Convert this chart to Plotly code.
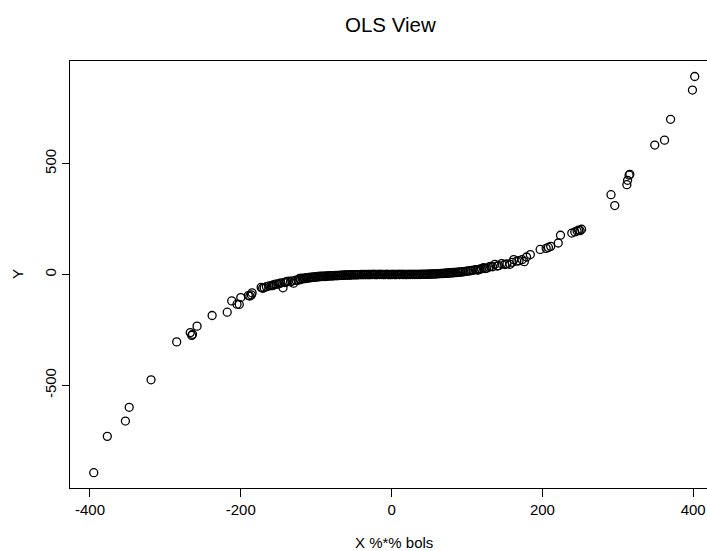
import plotly.graph_objects as go

# Points (x = X %*% bols, y = Y)
x_left = [-395, -377, -353, -348, -319, -285, -267, -265, -264, -258, -238, -218,
          -212, -205, -202, -200, -190, -188, -186, -185, -173, -171, -169, -166,
          -163, -160, -158, -157, -155, -153, -151, -149, -147, -144, -142, -140,
          -139, -137, -134, -132, -130, -127]
y_left = [-894, -730, -661, -599, -475, -304, -262, -275, -270, -233, -185, -170,
          -119, -134, -135, -104, -95, -97, -92, -83, -58, -62, -60, -55,
          -52, -50, -50, -47, -45, -44, -43, -41, -38, -60, -36, -35,
          -32, -30, -33, -29, -39, -26]

x_mid_a = [-124, -122, -121, -119, -118, -116, -115, -113, -112, -110,
           -109, -107, -106, -104, -103, -101, -100, -98, -97, -95,
           -94, -92, -91, -89, -88, -86, -85, -83, -82, -80,
           -79, -77, -76, -74, -73, -71, -70, -68, -67, -65, -64, -62]
y_mid_a = [-26, -18, -23, -17, -20, -16, -19, -14, -17, -13,
           -16, -12, -14, -11, -13, -10, -12, -9, -11, -8,
           -10, -8, -9, -7, -9, -6, -8, -6, -7, -5,
           -7, -5, -6, -4, -6, -4, -5, -3, -4, -3, -4, -2]

x_mid_b = [-61, -59, -58, -56, -55, -53, -52, -50, -49, -47,
           -46, -44, -43, -41, -40, -38, -37, -35, -34, -32,
           -31, -29, -28, -26, -25, -23, -22, -20, -19, -17,
           -16, -14, -13, -11, -10, -8, -7, -5, -4, -2, -1]
y_mid_b = [-3, -2, -3, -2, -3, -1, -2, -1, -2, -1,
           -2, -1, -1, 0, -1, -1, 0, -1, 0, -1,
           0, 0, -1, 0, 1, 0, 0, -1, 0, 1,
           0, 0, 1, 0, -1, 0, 1, 0, 0, -1, 0]

x_mid_c = [1, 2, 4, 5, 7, 8, 10, 11, 13, 14,
           16, 17, 19, 20, 22, 23, 25, 26, 28, 29,
           31, 32, 34, 35, 37, 38, 40, 41, 43, 44,
           46, 47, 49, 50, 52, 53, 55, 56, 58, 59]
y_mid_c = [0, 1, 0, -1, 0, 1, 0, 0, 1, 0,
           0, 1, -1, 0, 1, 0, 0, 1, 0, 1,
           0, 1, 0, 1, 1, 0, 1, 2, 1, 1,
           2, 1, 2, 2, 1, 3, 2, 3, 2, 3]

x_mid_d = [61, 62, 64, 65, 67, 68, 70, 71, 73, 74,
           76, 77, 79, 80, 82, 83, 85, 86, 88, 89, 91, 92, 94]
y_mid_d = [4, 3, 4, 5, 4, 5, 6, 5, 6, 7,
           6, 8, 7, 8, 9, 8, 10, 9, 11, 10, 12, 11, 13]

x_right = [95, 98, 100, 102, 104, 106, 108, 111, 113, 115, 117, 119, 122, 124, 126,
           129, 131, 134, 137, 140, 142, 146, 150, 153, 157, 160, 162, 166, 169, 173,
           176, 179, 184, 197, 205, 208, 211, 221, 224,
           239, 243, 246, 248, 250, 252, 291, 296, 312, 313, 315, 316, 349, 362, 370,
           399, 402]
y_right = [12, 14, 15, 16, 17, 18, 19, 22, 21, 20, 24, 26, 31, 27, 28,
           33, 37, 35, 46, 38, 40, 49, 45, 48, 46, 55, 67, 60, 62, 67,
           58, 79, 90, 113, 118, 122, 127, 142, 177,
           187, 192, 196, 200, 198, 204, 360, 311, 405, 425, 448, 452, 584, 606, 700,
           832, 893]

x_vals = x_left + x_mid_a + x_mid_b + x_mid_c + x_mid_d + x_right
y_vals = y_left + y_mid_a + y_mid_b + y_mid_c + y_mid_d + y_right

x_ticks = [-400, -200, 0, 200, 400]
y_ticks = [-500, 0, 500]

FONT = "Liberation Sans, Arial, Helvetica, sans-serif"

W, H = 707, 551
ML, MR, MT, MB = 70, 0, 61, 63
plot_w = W - ML - MR
plot_h = H - MT - MB


def px_to_paper(px, py):
    return (px - ML) / plot_w, (H - MB - py) / plot_h


fig = go.Figure()
fig.add_trace(go.Scatter(
    x=x_vals, y=y_vals, mode="markers",
    marker=dict(symbol="circle-open", size=8, color="black",
                line=dict(color="black", width=1.3)),
    showlegend=False, hoverinfo="skip",
))

ann = []
tx, ty = px_to_paper(390, 25)
ann.append(dict(text="OLS View", x=tx, y=ty, xref="paper", yref="paper", showarrow=False,
                font=dict(size=20.5), xanchor="center", yanchor="middle"))
ax_x, ax_y = px_to_paper(394, 542)
ann.append(dict(text="X %*% bols", x=ax_x, y=ax_y, xref="paper", yref="paper", showarrow=False,
                font=dict(size=15), xanchor="center", yanchor="middle"))
yx, yy = px_to_paper(17, 274)
ann.append(dict(text="Y", x=yx, y=yy, xref="paper", yref="paper", showarrow=False,
                font=dict(size=15), xanchor="center", yanchor="middle", textangle=-90))

fig.update_layout(
    width=W, height=H,
    margin=dict(l=ML, r=MR, t=MT, b=MB),
    paper_bgcolor="white", plot_bgcolor="white",
    font=dict(family=FONT, size=15, color="black"),
    xaxis=dict(range=[-426.5, 418.3], tickvals=x_ticks, ticktext=[str(v) for v in x_ticks],
               showgrid=False, zeroline=False, showline=True, mirror=True,
               linecolor="black", linewidth=1, ticks="outside", ticklen=8,
               tickcolor="black", tickwidth=1, tickfont=dict(size=15)),
    yaxis=dict(range=[-963, 963], tickvals=y_ticks, ticktext=[str(v) for v in y_ticks],
               showgrid=False, zeroline=False, showline=True, mirror=False,
               linecolor="black", linewidth=1, ticks="outside", ticklen=7,
               tickcolor="black", tickwidth=1, tickangle=-90, tickfont=dict(size=15)),
    annotations=ann,
)

fig.write_html("out.html")
